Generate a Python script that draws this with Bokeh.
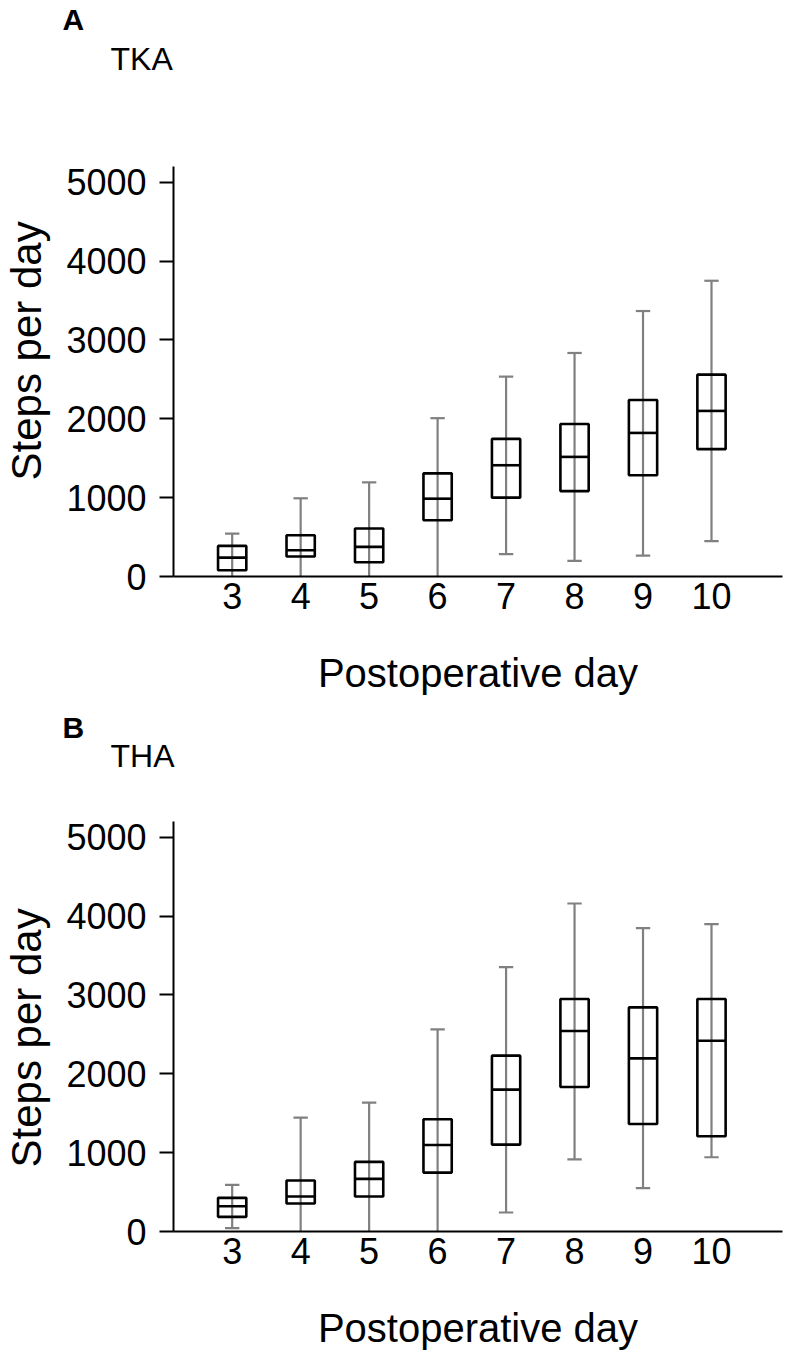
from bokeh.plotting import figure
from bokeh.layouts import column, row
from bokeh.models import FixedTicker, Label, Title, ColumnDataSource
from bokeh.embed import file_html
from bokeh.resources import INLINE

# ---- data ----
days = [3, 4, 5, 6, 7, 8, 9, 10]
y_ticks = [0, 1000, 2000, 3000, 4000, 5000]

tka_low = [0, 0, 0, 0, 283, 198, 266, 449]
tka_q1 = [80, 253, 181, 713, 1000, 1083, 1284, 1615]
tka_med = [240, 333, 376, 987, 1411, 1517, 1821, 2100]
tka_q3 = [388, 523, 608, 1308, 1745, 1934, 2239, 2560]
tka_high = [544, 992, 1194, 2008, 2535, 2835, 3367, 3751]

tha_low = [42, 0, 0, 0, 241, 916, 549, 942]
tha_q1 = [186, 355, 443, 747, 1102, 1833, 1364, 1208]
tha_med = [321, 443, 667, 1098, 1799, 2542, 2196, 2420]
tha_q3 = [427, 646, 883, 1423, 2230, 2948, 2842, 2948]
tha_high = [591, 1444, 1634, 2563, 3353, 4160, 3847, 3898]

FONT = "Liberation Sans"
GRAY = "#808080"

X_START, X_END = 2.143, 11.037
Y_END = 5200
FRAME_H = 410
PAGE_W = 785
YLAB_W = 60
FRAME_LEFT = 173


def blank_fig(w, h, **kw):
    f = figure(width=w, height=h, x_range=(0, w), y_range=(0, h),
               x_axis_type=None, y_axis_type=None, output_backend="svg",
               toolbar_location=None, title_location=None, **kw)
    f.outline_line_color = None
    f.background_fill_color = "white"
    f.border_fill_color = "white"
    return f


def header(letter, name, h, letter_mid, name_mid):
    f = blank_fig(PAGE_W, h, min_border=0)
    f.add_layout(Label(x=62, y=h - letter_mid, text=letter, text_font=FONT,
                       text_font_size="30px", text_font_style="bold", text_color="black",
                       text_align="left", text_baseline="middle"))
    f.add_layout(Label(x=110, y=h - name_mid, text=name, text_font=FONT,
                       text_font_size="32px", text_color="black",
                       text_align="left", text_baseline="middle"))
    return f


def ylabel_fig(h, border_top, offset):
    f = blank_fig(YLAB_W, h, min_border_left=49, min_border_right=0,
                  min_border_top=border_top, min_border_bottom=h - border_top - FRAME_H)
    f.add_layout(Title(text="Steps per day", text_font=FONT, text_font_size="42px",
                       text_font_style="normal", text_color="black", align="left",
                       offset=offset, standoff=0), "left")
    return f


def main_fig(low, q1, med, q3, high, fig_h, border_top):
    border_bottom = fig_h - border_top - FRAME_H
    p = figure(width=PAGE_W - YLAB_W, height=fig_h, x_range=(X_START, X_END),
               y_range=(0, Y_END), output_backend="svg", toolbar_location=None,
               title_location=None,
               min_border_left=FRAME_LEFT - YLAB_W, min_border_right=3,
               min_border_top=border_top, min_border_bottom=border_bottom)
    p.outline_line_color = None
    p.xgrid.visible = False
    p.ygrid.visible = False
    p.background_fill_color = "white"
    p.border_fill_color = "white"

    src = ColumnDataSource(dict(day=days, low=low, q1=q1, med=med, q3=q3, high=high,
                                l=[d - 0.2065 for d in days], r=[d + 0.2065 for d in days]))
    # whiskers (through the box)
    p.segment(x0="day", y0="low", x1="day", y1="high", source=src,
              line_color=GRAY, line_width=2.2)
    # caps
    cap_hw = 0.105
    p.segment(x0=[d - cap_hw for d in days], y0=high, x1=[d + cap_hw for d in days], y1=high,
              line_color=GRAY, line_width=2.2)
    lo_days = [d for d, v in zip(days, low) if v > 0]
    lo_vals = [v for v in low if v > 0]
    p.segment(x0=[d - cap_hw for d in lo_days], y0=lo_vals, x1=[d + cap_hw for d in lo_days],
              y1=lo_vals, line_color=GRAY, line_width=2.2)
    # boxes
    p.quad(left="l", right="r", bottom="q1", top="q3", source=src,
           fill_color=None, line_color="black", line_width=2.6)
    p.segment(x0="l", y0="med", x1="r", y1="med", source=src,
              line_color="black", line_width=2.6)

    # axes
    p.yaxis.ticker = FixedTicker(ticks=y_ticks)
    p.xaxis.ticker = FixedTicker(ticks=days)
    for ax in (p.xaxis[0], p.yaxis[0]):
        ax.axis_line_color = "black"
        ax.axis_line_width = 2
        ax.major_tick_line_color = "black"
        ax.major_tick_line_width = 2
        ax.minor_tick_line_color = None
        ax.major_label_text_font = FONT
        ax.major_label_text_font_size = "36px"
        ax.major_label_text_color = "black"
    p.yaxis.major_tick_out = 14
    p.yaxis.major_tick_in = 0
    p.yaxis.major_label_standoff = 13
    p.xaxis.major_tick_out = 0
    p.xaxis.major_tick_in = 0
    p.xaxis.major_label_standoff = 6
    p.xaxis.axis_label = "Postoperative day"
    p.xaxis.axis_label_text_font = FONT
    p.xaxis.axis_label_text_font_size = "40px"
    p.xaxis.axis_label_text_font_style = "normal"
    p.xaxis.axis_label_text_color = "black"
    p.xaxis.axis_label_standoff = 39
    return p


# Panel A: header 0..100, plot row 100..705 ; Panel B: header 705..785, plot row 785..1352
hA = header("A", "TKA", 100, letter_mid=19, name_mid=58.5)
pA = main_fig(tka_low, tka_q1, tka_med, tka_q3, tka_high, fig_h=605, border_top=66)
yA = ylabel_fig(605, border_top=66, offset=96)

hB = header("B", "THA", 80, letter_mid=726.5 - 705, name_mid=755.5 - 705)
pB = main_fig(tha_low, tha_q1, tha_med, tha_q3, tha_high, fig_h=567, border_top=36)
yB = ylabel_fig(567, border_top=36, offset=64)

layout = column(hA, row(yA, pA, spacing=0), hB, row(yB, pB, spacing=0), spacing=0)
open("out.html", "w").write(file_html(layout, INLINE))
